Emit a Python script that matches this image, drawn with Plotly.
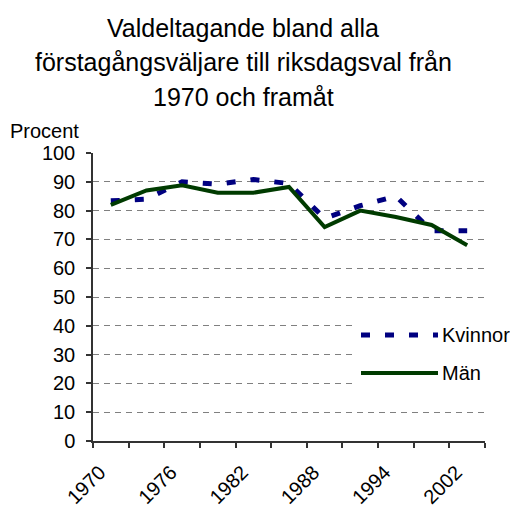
import plotly.graph_objects as go

years = ["1970", "1973", "1976", "1979", "1982", "1985", "1988", "1991", "1994", "1998", "2002"]
kvinnor = [83.4, 84.0, 90.0, 89.2, 90.8, 89.4, 77.3, 81.7, 85.0, 73.0, 73.0]
man = [82.0, 87.0, 88.8, 86.2, 86.2, 88.2, 74.3, 80.0, 77.8, 75.0, 68.0]

title_lines = ["Valdeltagande bland alla", "förstagångsväljare till riksdagsval från", "1970 och framåt"]
font_family = "Liberation Sans, Arial, sans-serif"
NAVY = "#000080"
GREEN = "#003b00"

# page body has an 8px margin; work in window pixels and shift
OFF = 8
W, H = 518 - OFF, 507 - OFF
L, R, T, B = 93 - OFF, 33, 153 - OFF, 66

fig = go.Figure()
fig.add_trace(go.Scatter(x=years, y=kvinnor, mode="lines", name="Kvinnor",
                         line=dict(color=NAVY, width=5, dash="9px,15px"), showlegend=False))
fig.add_trace(go.Scatter(x=years, y=man, mode="lines", name="Män",
                         line=dict(color=GREEN, width=4), showlegend=False))

fig.update_layout(
    width=W, height=H,
    margin=dict(l=L, r=R, t=T, b=B),
    paper_bgcolor="white", plot_bgcolor="white",
    font=dict(family=font_family, size=20, color="black"),
    showlegend=False,
    xaxis=dict(type="category", tickson="boundaries", ticklabelstep=2,
               ticks="outside", ticklen=5, tickcolor="#333", tickwidth=1.5,
               showline=True, linecolor="#333", linewidth=1.5,
               showgrid=False, tickangle=-45, tickfont=dict(size=20),
               ticklabelstandoff=10, ticklabelshift=-11,
               automargin=False, range=[-0.5, 10.5]),
    yaxis=dict(range=[0, 100], dtick=10, ticks="outside", ticklen=5,
               tickcolor="#333", tickwidth=1.5,
               showline=True, linecolor="#333", linewidth=1.5,
               showgrid=True, gridcolor="#808080", griddash="6px,5px", gridwidth=1.2,
               zeroline=False, tickfont=dict(size=20), ticklabelstandoff=7,
               automargin=False),
)


def px(xw):
    return (xw - OFF - L) / (W - L - R)


def py(yw):
    return 1 - (yw - OFF - T) / (H - T - B)


# title lines
for i, txt in enumerate(title_lines):
    fig.add_annotation(text=txt, xref="paper", yref="paper",
                       x=px(243), y=py(28 + 34.5 * i),
                       xanchor="center", yanchor="middle", showarrow=False,
                       font=dict(size=25, family=font_family, color="black"))

fig.add_annotation(text="Procent", xref="paper", yref="paper",
                   x=px(8), y=py(131),
                   xanchor="left", yanchor="middle", showarrow=False,
                   font=dict(size=20, family=font_family, color="black"))

# legend (manual)
fig.add_shape(type="rect", xref="paper", yref="paper", x0=px(357), x1=px(517), y0=py(320), y1=py(396),
              fillcolor="white", line=dict(width=0), layer="above")
fig.add_shape(type="line", xref="paper", yref="paper", x0=px(361), x1=px(438), y0=py(335), y1=py(335),
              line=dict(color=NAVY, width=5, dash="9px,15px"), layer="above")
fig.add_shape(type="line", xref="paper", yref="paper", x0=px(361), x1=px(438), y0=py(373), y1=py(373),
              line=dict(color=GREEN, width=4), layer="above")
fig.add_annotation(text="Kvinnor", xref="paper", yref="paper", x=px(440), y=py(335),
                   xanchor="left", yanchor="middle", showarrow=False,
                   font=dict(size=20, family=font_family, color="black"))
fig.add_annotation(text="Män", xref="paper", yref="paper", x=px(440), y=py(373),
                   xanchor="left", yanchor="middle", showarrow=False,
                   font=dict(size=20, family=font_family, color="black"))

fig.write_html("out.html")
